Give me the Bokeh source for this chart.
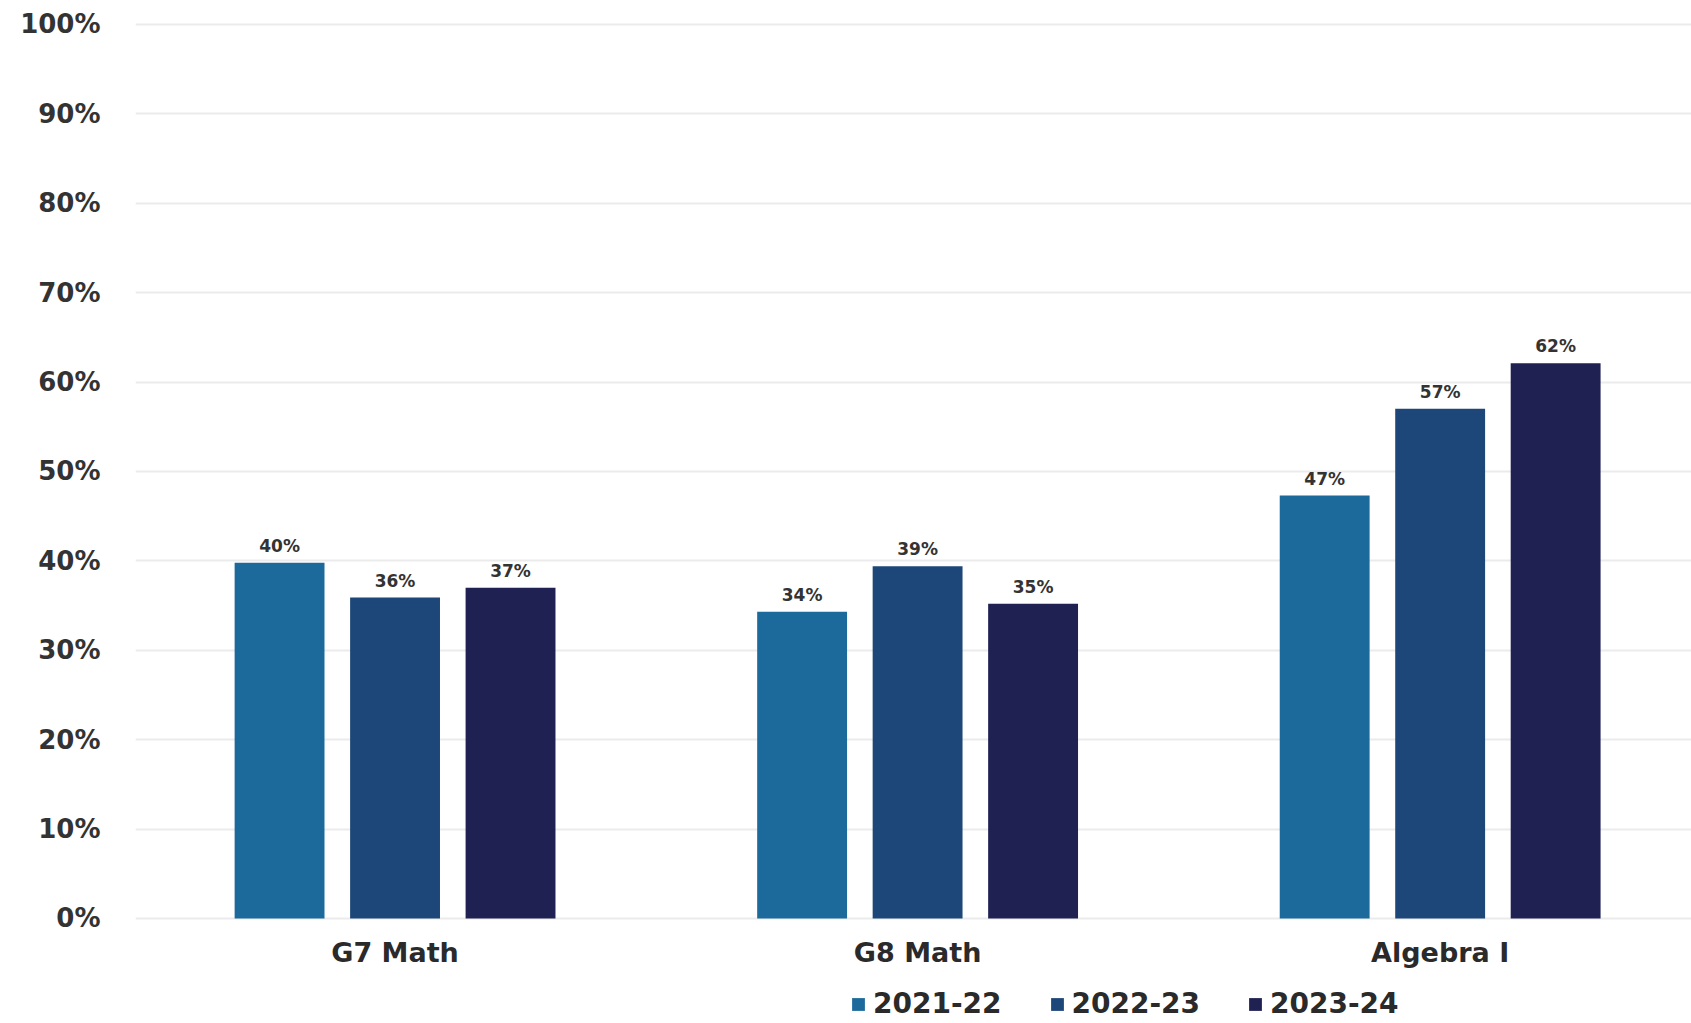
from bokeh.plotting import figure
from bokeh.layouts import column
from bokeh.models import ColumnDataSource, Range1d, FixedTicker, Legend, LegendItem
from bokeh.core.properties import value
from bokeh.embed import file_html
from bokeh.resources import INLINE

categories = ["G7 Math", "G8 Math", "Algebra I"]
series_names = ["2021-22", "2022-23", "2023-24"]
values_2021_22 = [39.8, 34.3, 47.3]
values_2022_23 = [35.9, 39.4, 57.0]
values_2023_24 = [37.0, 35.2, 62.1]
series_values = [values_2021_22, values_2022_23, values_2023_24]
series_colors = ["#1b6a9b", "#1d4779", "#1f2153"]
y_ticks = [0, 10, 20, 30, 40, 50, 60, 70, 80, 90, 100]
y_tick_labels = ["0%", "10%", "20%", "30%", "40%", "50%", "60%", "70%", "80%", "90%", "100%"]

FONT = "DejaVu Sans"
offsets = [-0.221, 0.0, 0.221]
bar_width = 0.172

p = figure(width=1691, height=970, output_backend="svg", toolbar_location=None,
           x_range=Range1d(-0.4967, 2.481), y_range=Range1d(-0.45, 101.78),
           min_border_left=135, min_border_right=0, min_border_top=8, min_border_bottom=45)
p.outline_line_color = None
p.background_fill_color = "white"
p.border_fill_color = "white"

for name, vals, col, off in zip(series_names, series_values, series_colors, offsets):
    src = ColumnDataSource(dict(
        x=[i + off for i in range(len(categories))],
        top=vals,
        label=[f"{round(v)}%" for v in vals],
    ))
    p.vbar(x="x", top="top", bottom=0, width=bar_width, source=src,
           fill_color=col, line_color=None)
    p.text(x="x", y="top", text="label", source=src, text_align="center",
           text_baseline="bottom", y_offset=-7, text_font=value(FONT),
           text_font_style="bold", text_font_size="17px", text_color="#333333")

# axes
p.xaxis.ticker = FixedTicker(ticks=list(range(len(categories))))
p.xaxis.major_label_overrides = {i: c for i, c in enumerate(categories)}
p.xaxis.axis_line_color = None
p.xaxis.major_tick_line_color = None
p.xaxis.minor_tick_line_color = None
p.xaxis.major_tick_out = 0
p.xaxis.major_label_standoff = 14
p.xaxis.major_label_text_font = FONT
p.xaxis.major_label_text_font_style = "bold"
p.xaxis.major_label_text_font_size = "27px"
p.xaxis.major_label_text_color = "#2a2a2a"

p.yaxis.ticker = FixedTicker(ticks=y_ticks)
p.yaxis.major_label_overrides = {t: l for t, l in zip(y_ticks, y_tick_labels)}
p.yaxis.axis_line_color = None
p.yaxis.major_tick_line_color = None
p.yaxis.minor_tick_line_color = None
p.yaxis.major_tick_out = 0
p.yaxis.major_label_standoff = 35
p.yaxis.major_label_text_font = FONT
p.yaxis.major_label_text_font_style = "bold"
p.yaxis.major_label_text_font_size = "26px"
p.yaxis.major_label_text_color = "#333333"

p.xgrid.grid_line_color = None
p.ygrid.grid_line_color = "#ebebeb"
p.ygrid.grid_line_width = 2

# legend strip below the chart
lg = figure(width=1691, height=50, output_backend="svg", toolbar_location=None,
            x_range=Range1d(0, 1), y_range=Range1d(0, 1),
            x_axis_location=None, y_axis_location=None,
            min_border_left=0, min_border_right=0, min_border_top=0, min_border_bottom=0)
lg.outline_line_color = None
lg.xgrid.grid_line_color = None
lg.ygrid.grid_line_color = None
items = []
for name, col in zip(series_names, series_colors):
    # zero-height placeholder bar: only supplies the legend swatch
    r = lg.vbar(x=[0], top=[0], bottom=[0], width=0.01, fill_color=col, line_color=None)
    items.append(LegendItem(label=name, renderers=[r]))
legend = Legend(items=items, orientation="horizontal", location=(715, 0),
                label_text_font=FONT, label_text_font_style="bold",
                label_text_font_size="28px", label_text_color="#2a2a2a",
                glyph_width=16, glyph_height=16, label_standoff=7, spacing=47,
                padding=2, margin=0, border_line_color=None, background_fill_alpha=0)
lg.add_layout(legend)

layout = column(p, lg, spacing=0)
open("out.html", "w").write(file_html(layout, INLINE))
